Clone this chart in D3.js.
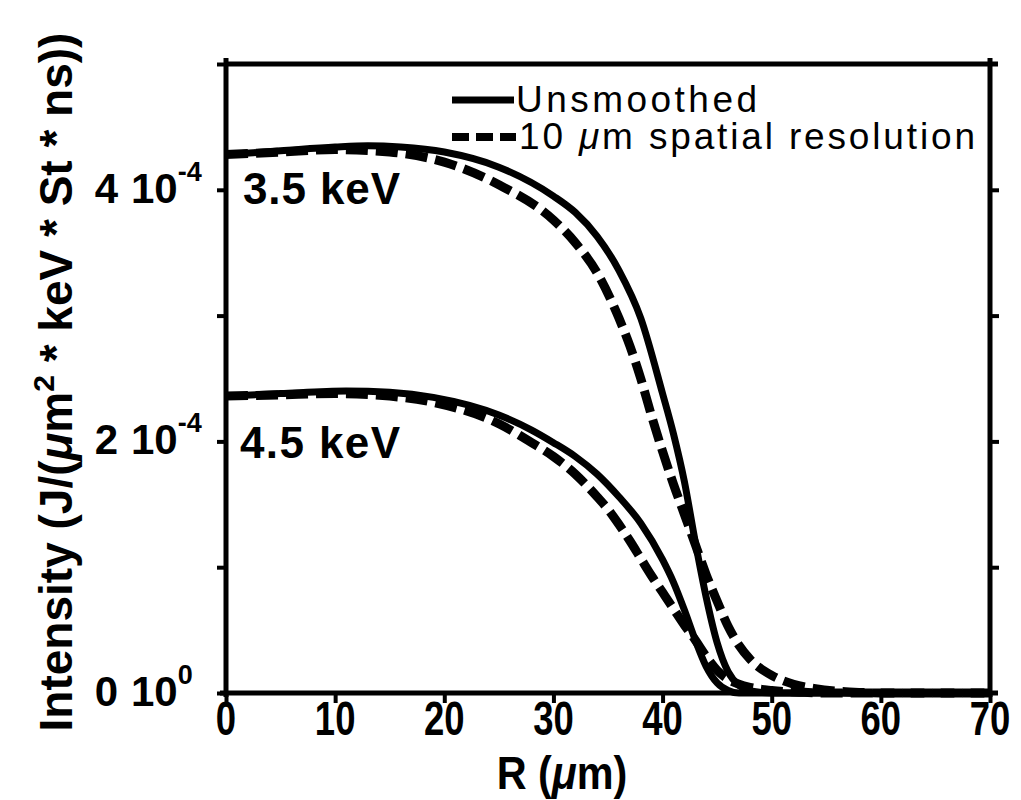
<!DOCTYPE html>
<html>
<head>
<meta charset="utf-8">
<script src="https://cdn.jsdelivr.net/npm/d3@7"></script>
<style>
  body { margin: 0; background: #fff; }
  svg { display: block; }
</style>
</head>
<body>
<div id="chart"></div>
<script>
// radius in um, intensity in units of 1e-4 J/(um^2 keV St ns)
var r35 = [0, 5, 10, 13, 16, 20, 25, 30, 32, 34, 36, 38, 40, 41, 42, 43, 44, 45, 46, 47, 48, 49, 50, 70];
var i35 = [4.28, 4.31, 4.34, 4.35, 4.34, 4.30, 4.18, 3.95, 3.82, 3.63, 3.36, 2.98, 2.38, 2.06, 1.68, 1.20, 0.76, 0.40, 0.17, 0.06, 0.02, 0.005, 0, 0];

var r35s = [0, 5, 10, 15, 20, 25, 30, 32, 34, 36, 37, 38, 39, 40, 41, 42, 43, 44, 45, 46, 47, 48, 50, 52, 54, 56, 58, 60, 70];
var i35s = [4.28, 4.30, 4.32, 4.30, 4.22, 4.04, 3.76, 3.58, 3.34, 2.98, 2.76, 2.50, 2.20, 1.92, 1.66, 1.42, 1.18, 0.94, 0.73, 0.53, 0.38, 0.27, 0.14, 0.07, 0.035, 0.015, 0.005, 0, 0];

var r45 = [0, 5, 11, 15, 19, 25, 28, 30, 32, 34, 36, 38, 40, 41, 42, 43, 44, 45, 46, 47, 70];
var i45 = [2.36, 2.38, 2.40, 2.39, 2.35, 2.21, 2.09, 1.99, 1.88, 1.74, 1.56, 1.35, 1.06, 0.88, 0.66, 0.42, 0.21, 0.08, 0.02, 0, 0];

var r45s = [0, 5, 10, 15, 19, 25, 28, 30, 32, 34, 35, 36, 37, 38, 39, 40, 41, 42, 43, 44, 45, 46, 47, 48, 50, 53, 55, 70];
var i45s = [2.36, 2.37, 2.38, 2.36, 2.31, 2.14, 1.99, 1.88, 1.74, 1.56, 1.46, 1.34, 1.21, 1.07, 0.93, 0.80, 0.67, 0.54, 0.42, 0.29, 0.18, 0.11, 0.07, 0.045, 0.02, 0.005, 0, 0];

var xTicks = [0, 10, 20, 30, 40, 50, 60, 70];
var yTicks = [0, 1e-4, 2e-4, 3e-4, 4e-4, 5e-4];
var yLabelVals = [0, 2e-4, 4e-4];
var yLabelMant = ["0", "2", "4"];
var yLabelExp = ["0", "-4", "-4"];

var legendNames = ["Unsmoothed", "10 \u03bcm spatial resolution"];

function toRows(rs, is) {
  return rs.map(function(r, k) { return { r: r, v: is[k] * 1e-4 }; });
}

var width = 1021, height = 800;
var svg = d3.select("#chart").append("svg")
  .attr("width", width)
  .attr("height", height)
  .style("background", "#fff");

var x = d3.scaleLinear().domain([0, 70]).range([226, 990]);
var y = d3.scaleLinear().domain([0, 5e-4]).range([693, 64]);

var ink = "#000";
var sans = "'Liberation Sans', Arial, Helvetica, sans-serif";

// axes (ticks only, labels drawn separately)
var xAxis = svg.append("g")
  .attr("transform", "translate(0,693)")
  .call(d3.axisBottom(x).tickValues(xTicks).tickSize(10).tickSizeOuter(0).tickFormat(""));
var yAxis = svg.append("g")
  .attr("transform", "translate(226,0)")
  .call(d3.axisLeft(y).tickValues(yTicks).tickSize(9).tickSizeOuter(0).tickFormat(""));
var yAxisR = svg.append("g")
  .attr("transform", "translate(990,0)")
  .call(d3.axisRight(y).tickValues(yTicks.slice(1, 5)).tickSize(9).tickSizeOuter(0).tickFormat(""));

[xAxis, yAxis, yAxisR].forEach(function(g) {
  g.select(".domain").remove();
  g.selectAll(".tick line").attr("stroke", ink).attr("stroke-width", 4);
});

// frame
var frame = svg.append("g").attr("stroke", ink).attr("stroke-width", 5).attr("fill", "none");
frame.append("line").attr("x1", x(0)).attr("x2", x(0)).attr("y1", y(5e-4) - 6).attr("y2", y(0) + 4);
frame.append("line").attr("x1", x(70)).attr("x2", x(70)).attr("y1", y(5e-4) - 6).attr("y2", y(0) + 4);
frame.append("line").attr("x1", x(0) - 6).attr("x2", x(70) + 8).attr("y1", y(0)).attr("y2", y(0));
frame.append("line").attr("x1", x(0)).attr("x2", x(70) + 8).attr("y1", y(5e-4)).attr("y2", y(5e-4));

// x tick labels (condensed)
svg.append("g").selectAll("text")
  .data(xTicks)
  .enter().append("text")
  .attr("transform", function(d) { return "translate(" + x(d) + ",735) scale(0.76,1)"; })
  .attr("text-anchor", "middle")
  .attr("font-family", sans)
  .attr("font-weight", "bold")
  .attr("font-size", 48)
  .text(function(d) { return d; });

// y tick labels: mantissa, then "10" with superscript exponent
var ylg = svg.append("g")
  .attr("font-family", sans)
  .attr("font-weight", "bold");
ylg.selectAll("text.mant")
  .data(yLabelVals)
  .enter().append("text")
  .attr("class", "mant")
  .attr("x", 118)
  .attr("y", function(d) { return y(d) + 13; })
  .attr("text-anchor", "end")
  .attr("font-size", 42)
  .text(function(d, k) { return yLabelMant[k]; });
var yl = ylg.selectAll("text.pow")
  .data(yLabelVals)
  .enter().append("text")
  .attr("class", "pow")
  .attr("x", 131)
  .attr("y", function(d) { return y(d) + 13; })
  .attr("font-size", 42);
yl.append("tspan").text("10");
yl.append("tspan")
  .attr("dy", -22)
  .attr("font-size", 27)
  .text(function(d, k) { return yLabelExp[k]; });

// axis titles
var xt = svg.append("text")
  .attr("transform", "translate(562,789) scale(0.9,1)")
  .attr("text-anchor", "middle")
  .attr("font-family", sans)
  .attr("font-weight", "bold")
  .attr("font-size", 46);
xt.append("tspan").text("R (");
xt.append("tspan").attr("font-style", "italic").text("\u03bc");
xt.append("tspan").text("m)");

var yt = svg.append("text")
  .attr("transform", "translate(72,382) rotate(-90)")
  .attr("text-anchor", "middle")
  .attr("font-family", sans)
  .attr("font-weight", "bold")
  .attr("font-size", 46);
yt.append("tspan").text("Intensity (J/(");
yt.append("tspan").attr("font-style", "italic").text("\u03bc");
yt.append("tspan").text("m");
yt.append("tspan").attr("dy", -18).attr("font-size", 30).text("2");
yt.append("tspan").attr("dy", 18).text(" * keV * St * ns))");

// curves
var line = d3.line()
  .x(function(d) { return x(d.r); })
  .y(function(d) { return y(d.v); })
  .curve(d3.curveMonotoneX);

var curves = [
  { rows: toRows(r35, i35), dash: null },
  { rows: toRows(r45, i45), dash: null },
  { rows: toRows(r35s, i35s), dash: "22,8" },
  { rows: toRows(r45s, i45s), dash: "22,8" }
];

svg.append("g").selectAll("path")
  .data(curves)
  .enter().append("path")
  .attr("d", function(d) { return line(d.rows); })
  .attr("fill", "none")
  .attr("stroke", ink)
  .attr("stroke-width", function(d) { return d.dash ? 9 : 7; })
  .attr("stroke-dasharray", function(d) { return d.dash; });

// curve labels
svg.append("text")
  .attr("x", 243).attr("y", 204)
  .attr("font-family", sans).attr("font-weight", "bold").attr("font-size", 44)
  .attr("textLength", 157).attr("lengthAdjust", "spacing")
  .text("3.5 keV");
svg.append("text")
  .attr("x", 240).attr("y", 458)
  .attr("font-family", sans).attr("font-weight", "bold").attr("font-size", 44)
  .attr("textLength", 160).attr("lengthAdjust", "spacing")
  .text("4.5 keV");

// legend
var lg = svg.append("g");
lg.append("line")
  .attr("x1", 452).attr("x2", 514).attr("y1", 100).attr("y2", 100)
  .attr("stroke", ink).attr("stroke-width", 7);
lg.append("line")
  .attr("x1", 452).attr("x2", 516).attr("y1", 137).attr("y2", 137)
  .attr("stroke", ink).attr("stroke-width", 8).attr("stroke-dasharray", "17,7");
lg.append("text")
  .attr("x", 516).attr("y", 112)
  .attr("font-family", sans).attr("font-size", 37)
  .attr("textLength", 241).attr("lengthAdjust", "spacing")
  .text(legendNames[0]);
var l2 = lg.append("text")
  .attr("x", 519).attr("y", 149)
  .attr("font-family", sans).attr("font-size", 37)
  .attr("textLength", 456).attr("lengthAdjust", "spacing");
l2.append("tspan").text("10 ");
l2.append("tspan").attr("font-style", "italic").text("\u03bc");
l2.append("tspan").text("m spatial resolution");
</script>
</body>
</html>
